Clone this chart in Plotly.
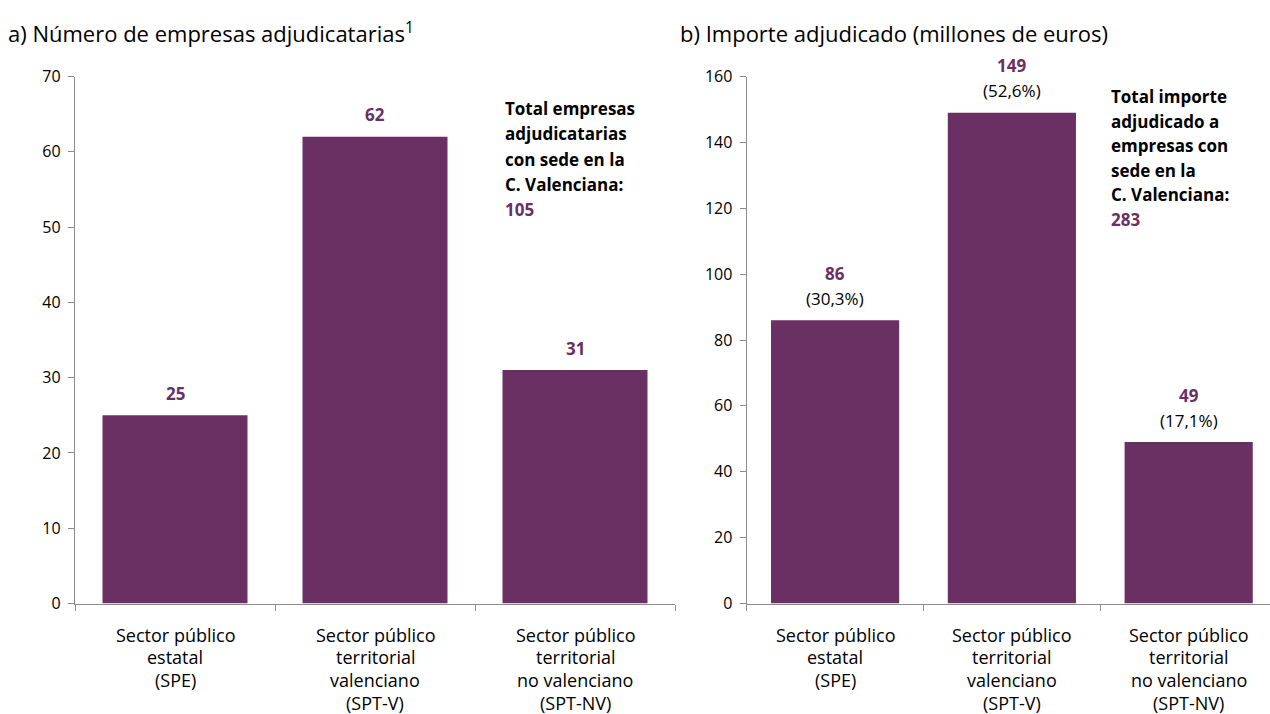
import plotly.graph_objects as go

# ---- data ----
categories = ["SPE", "SPT-V", "SPT-NV"]
category_labels = [
    ["Sector público", "estatal", "(SPE)"],
    ["Sector público", "territorial", "valenciano", "(SPT-V)"],
    ["Sector público", "territorial", "no valenciano", "(SPT-NV)"],
]
empresas = [25, 62, 31]
importe = [86, 149, 49]
importe_pct = ["(30,3%)", "(52,6%)", "(17,1%)"]
total_empresas = 105
total_importe = 283
title_a = "a) Número de empresas adjudicatarias<sup>1</sup>"
title_b = "b) Importe adjudicado (millones de euros)"
note_a = ["Total empresas", "adjudicatarias", "con sede en la", "C. Valenciana:"]
note_b = ["Total importe", "adjudicado a", "empresas con", "sede en la", "C. Valenciana:"]

PURPLE = "#6a3063"
AXIS = "#8c8c8c"
FONT = "Open Sans"
W, H = 1270, 714
LBL = 17
CAT = 18

fig = go.Figure()
fig.add_trace(go.Bar(x=categories, y=empresas, marker_color=PURPLE,
                     marker_line_width=0, xaxis="x", yaxis="y", hoverinfo="skip"))
fig.add_trace(go.Bar(x=categories, y=importe, marker_color=PURPLE,
                     marker_line_width=0, xaxis="x2", yaxis="y2", hoverinfo="skip"))

ydom = [(H - 603.5) / H, (H - 76.5) / H]
axis_common = dict(showline=True, linecolor=AXIS, linewidth=1.3, ticks="outside",
                   ticklen=6, tickcolor=AXIS, tickwidth=1.3, showgrid=False,
                   zeroline=False, automargin=False)

fig.update_layout(
    template="none",
    width=W, height=H, margin=dict(l=0, r=0, t=0, b=0, autoexpand=False),
    paper_bgcolor="white", plot_bgcolor="white", showlegend=False,
    bargap=0.275,
    font=dict(family=FONT, size=16, color="#000000"),
    xaxis=dict(domain=[75 / W, 675 / W], anchor="y", range=[-0.5, 2.5],
               tickmode="array", tickvals=[0, 1, 2], tickson="boundaries",
               showticklabels=False, **axis_common),
    yaxis=dict(domain=ydom, anchor="x", range=[0, 70], dtick=10,
               tickfont=dict(size=16), ticklabelstandoff=4, **axis_common),
    xaxis2=dict(domain=[746.7 / W, 1.0], anchor="y2", range=[-0.5, 2.46],
                tickmode="array", tickvals=[0, 1, 2], tickson="boundaries",
                showticklabels=False, **axis_common),
    yaxis2=dict(domain=ydom, anchor="x2", range=[0, 160], dtick=20,
                tickfont=dict(size=16), ticklabelstandoff=4, **axis_common),
)

ann = []
# titles
ann.append(dict(text=title_a, xref="paper", yref="paper", x=6 / W, y=(H - 33) / H,
                xanchor="left", yanchor="middle", showarrow=False,
                font=dict(size=22, color="#000000")))
ann.append(dict(text=title_b, xref="paper", yref="paper", x=678 / W, y=(H - 33) / H,
                xanchor="left", yanchor="middle", showarrow=False,
                font=dict(size=22, color="#000000")))

# category labels (both panels)
for xr, yr in (("x", "y"), ("x2", "y2")):
    for cat, lines in zip(categories, category_labels):
        for i, line in enumerate(lines):
            ann.append(dict(text=line, x=cat, y=0, xref=xr, yref=yr,
                            yshift=-(31 + 22.8 * i), xanchor="center", yanchor="middle",
                            showarrow=False, font=dict(size=CAT, color="#000000")))

# value labels panel a
for cat, v in zip(categories, empresas):
    ann.append(dict(text=f"<b>{v}</b>", x=cat, y=v, xref="x", yref="y", yshift=22,
                    yanchor="middle", showarrow=False,
                    font=dict(size=LBL, color=PURPLE)))
# value labels panel b
for cat, v, p in zip(categories, importe, importe_pct):
    ann.append(dict(text=f"<b>{v}</b>", x=cat, y=v, xref="x2", yref="y2", yshift=47,
                    yanchor="middle", showarrow=False,
                    font=dict(size=LBL, color=PURPLE)))
    ann.append(dict(text=p, x=cat, y=v, xref="x2", yref="y2", yshift=22,
                    yanchor="middle", showarrow=False,
                    font=dict(size=LBL, color="#000000")))

# side notes
for i, line in enumerate(note_a + [None]):
    txt = f"<b>{line}</b>" if line else f"<b>{total_empresas}</b>"
    col = "#000000" if line else PURPLE
    ann.append(dict(text=txt, xref="paper", yref="paper", x=503 / W,
                    y=(H - (108 + 25.5 * i)) / H, xanchor="left", yanchor="middle",
                    showarrow=False, font=dict(size=LBL, color=col)))
for i, line in enumerate(note_b + [None]):
    txt = f"<b>{line}</b>" if line else f"<b>{total_importe}</b>"
    col = "#000000" if line else PURPLE
    ann.append(dict(text=txt, xref="paper", yref="paper", x=1109 / W,
                    y=(H - (97 + 24.4 * i)) / H, xanchor="left", yanchor="middle",
                    showarrow=False, font=dict(size=LBL, color=col)))

fig.update_layout(annotations=ann)
fig.write_html(
    "out.html",
    config={"responsive": False, "displayModeBar": False},
    post_script="document.body.style.margin='0';document.body.style.overflow='hidden';",
)
